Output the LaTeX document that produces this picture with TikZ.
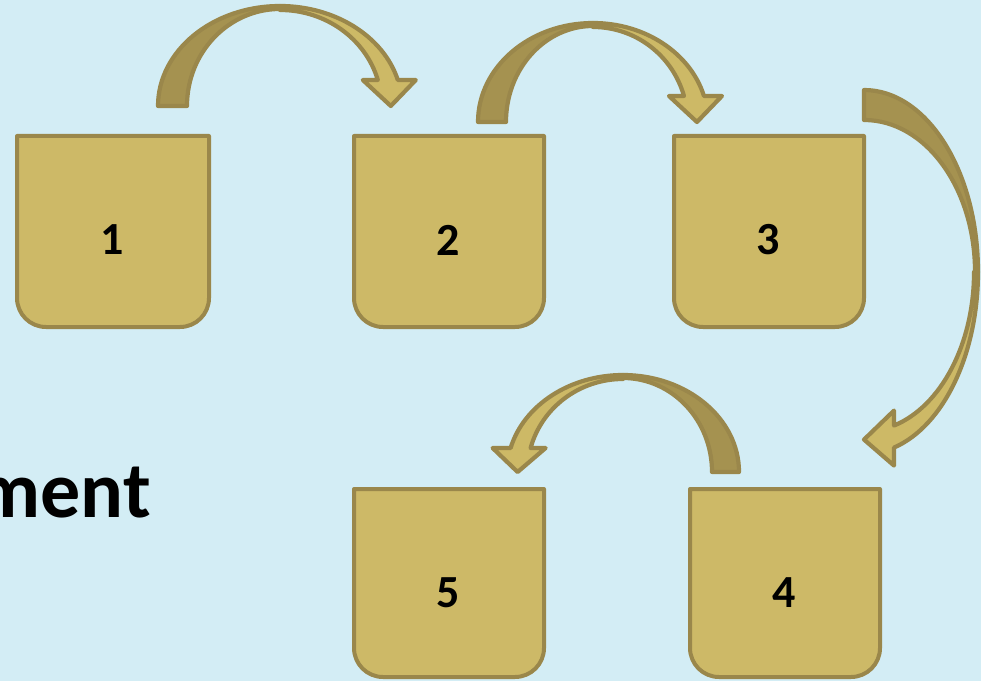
\documentclass[tikz,border=0pt]{standalone}
\usepackage{fontspec}
\setmainfont{Carlito}
\usetikzlibrary{backgrounds}
\definecolor{bgc}{HTML}{D3EDF5}
\definecolor{boxfill}{HTML}{CDB967}
\definecolor{edgec}{HTML}{9A874B}
\definecolor{tailc}{HTML}{A59250}
\definecolor{frontc}{HTML}{CDB966}
\tikzset{
  boxshape/.style={fill=boxfill, draw=edgec, line width=4pt, line join=round},
  tailst/.style={fill=tailc, draw=edgec, line width=4.2pt, line join=round},
  frontst/.style={fill=frontc, draw=edgec, line width=4.2pt, line join=round},
  num/.style={font=\fontsize{46}{50}\selectfont\bfseries, inner sep=0pt}
}
% #1 outer x radius, #2 outer y radius, #3 tail thickness, #4 neck height, #5 neck width
\newcommand{\bentarrow}[5]{%
  \pgfmathsetmacro\Ro{#1}\pgfmathsetmacro\Vo{#2}%
  \pgfmathsetmacro\Ri{#1-#3}\pgfmathsetmacro\Vi{#2-3}%
  \pgfmathsetmacro\tho{asin(#4/#2)}%
  \pgfmathsetmacro\xo{#1*cos(\tho)}%
  \pgfmathsetmacro\xi{\xo-#5}%
  \pgfmathsetmacro\Vf{#2-4}%
  \pgfmathsetmacro\thi{asin(#4/\Vf)}%
  \pgfmathsetmacro\Rf{\xi/cos(\thi)}%
  \pgfmathsetmacro\tipx{\xo-#5/2+3}%
  \filldraw[tailst] (-\Ro,0) arc[start angle=180,end angle=90,x radius=\Ro pt,y radius=\Vo pt]
     -- (0,\Vi) arc[start angle=90,end angle=180,x radius=\Ri pt,y radius=\Vi pt] -- cycle;
  \filldraw[frontst] (0,\Vo) arc[start angle=90,end angle=\tho,x radius=\Ro pt,y radius=\Vo pt]
     -- (\xo+18,#4) -- (\tipx,0) -- (\xi-15,#4) -- (\xi,#4)
     arc[start angle=\thi,end angle=90,x radius=\Rf pt,y radius=\Vf pt] -- cycle;
}
\newcommand{\cupbox}[4]{% x1, x2, ytop, ybot
  \draw[boxshape] (#1,#3) -- (#1,#4+29) arc[start angle=180,end angle=270,radius=29pt]
    -- (#2-29,#4) arc[start angle=270,end angle=360,radius=29pt] -- (#2,#3) -- cycle;
}
\begin{document}
\begin{tikzpicture}[x=1pt,y=1pt]
\useasboundingbox (0,0) rectangle (981,681);
\fill[bgc] (0,0) rectangle (981,681);
\clip (0,0) rectangle (981,681);

% boxes
\cupbox{17}{209}{545}{354}
\cupbox{354}{544}{545}{354}
\cupbox{674}{864}{545}{354}
\cupbox{354}{544}{192}{4}
\cupbox{690}{880}{192}{4}

% labels
\node[num] (b1) at (112,441) {1};
\node[num] (b2) at (448,441) {2};
\node[num] (b3) at (768,441) {3};
\node[num] (b5) at (448,88) {5};
\node[num] (b4) at (784,88) {4};

% side text (partly outside the picture, as in the reference)
\node[font=\fontsize{80}{84}\selectfont\bfseries, inner sep=0pt, anchor=base east] (side) at (151,164) {ment};

% curved block arrows
\begin{scope}[shift={(280,575)}]
  \bentarrow{122}{100}{29}{26}{20}
\end{scope}
\begin{scope}[shift={(593,559)}]
  \bentarrow{115}{99}{28}{26}{20}
\end{scope}
\begin{scope}[shift={(864,409)}, rotate=-90]
  \bentarrow{182}{114}{30}{30}{22}
\end{scope}
\begin{scope}[shift={(623,209)}, xscale=-1]
  \bentarrow{116}{97}{27}{24}{20}
\end{scope}
\end{tikzpicture}
\end{document}
